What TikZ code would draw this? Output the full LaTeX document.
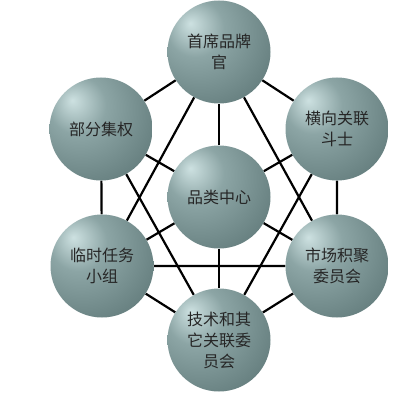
\documentclass[tikz,border=0pt]{standalone}
\usepackage{fontspec}
\setmainfont{Noto Sans CJK SC}
\usepackage{tikz}
\usetikzlibrary{backgrounds}
\definecolor{globehi}{RGB}{205,225,225}
\definecolor{globemid}{RGB}{140,165,165}
\definecolor{globebase}{RGB}{100,125,125}
\definecolor{globedark}{RGB}{52,68,68}
\pgfdeclareradialshading{globe}{\pgfpoint{-14bp}{14bp}}{%
  color(0bp)=(globehi); color(14bp)=(globemid); color(38bp)=(globebase);
  color(64bp)=(globedark); color(80bp)=(globedark)}
\tikzset{
  every picture/.style = {
    x = 1pt,
    y = -1pt,
  }
  ,
  role/.style = {
    circle,
    shading = globe,
    minimum size = 103pt,
    inner sep = 0pt,
    align = center,
    font = \fontsize{16}{21}\selectfont,
    text = black!85
  }
  , % links between roles
  link/.style = {
    line width = 2.2pt,
    black
  }
}
\begin{document}
\begin{tikzpicture}
\useasboundingbox (0,0) rectangle (419,406);
\node[role] at (219,52) (cbo) {首席品牌\\官};
\node[role] at (101,129) (dept) {部分集权};
\node[role] at (337,129) (cross) {横向关联\\斗士};
\node[role] at (219,197) (hub) {品类中心};
\node[role] at (102,266) (task) {临时任务\\小组};
\node[role] at (337,266) (market) {市场积聚\\委员会};
\node[role] at (219,340) (tech) {技术和其\\它关联委\\员会};
\begin{scope}[on background layer]
\draw[link] (cbo) -- (dept) -- (task) -- (tech) -- (market) -- (cross) -- (cbo);
\foreach \n in {cbo,dept,cross,task,market,tech}
  \draw[link] (hub) -- (\n);
\draw[link] (cbo) -- (task) -- (market) -- (cbo);
\draw[link] (dept) -- (tech) -- (cross);
\end{scope}
\end{tikzpicture}
\end{document}
